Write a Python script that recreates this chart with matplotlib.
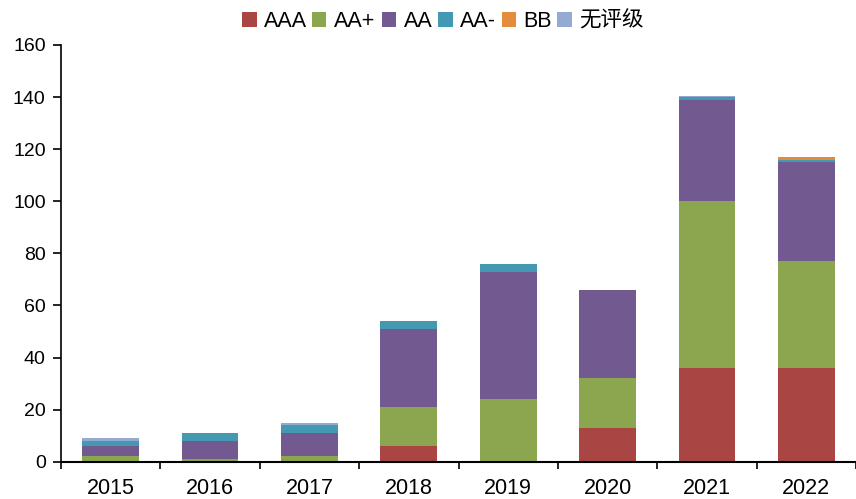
import matplotlib
matplotlib.use("Agg")
import matplotlib.pyplot as plt
from matplotlib.patches import Rectangle
import numpy as np

plt.rcParams['font.family'] = ['Liberation Sans', 'Noto Sans CJK SC', 'DejaVu Sans']

years = ["2015", "2016", "2017", "2018", "2019", "2020", "2021", "2022"]
series_names = ["AAA", "AA+", "AA", "AA-", "BB", "无评级"]
aaa = [0, 0, 0, 6, 0, 13, 36, 36]
aa_plus = [2, 1, 2, 15, 24, 19, 64, 41]
aa = [4, 7, 9, 30, 49, 34, 39, 38]
aa_minus = [2, 3, 3, 3, 3, 0, 1, 1]
bb = [0, 0, 0, 0, 0, 0, 0, 1]
unrated = [1, 0, 1, 0, 0, 0, 0.3, 0]
colors = ["#A94644", "#8BA64E", "#725A91", "#4299B1", "#E38C3C", "#94AAD3"]

data = [aaa, aa_plus, aa, aa_minus, bb, unrated]

W, H = 856, 499
fig = plt.figure(figsize=(W / 100, H / 100), dpi=100)
ax = fig.add_axes([61 / W, 37.3 / H, 795 / W, 416.7 / H])
x = np.arange(len(years))
bottom = np.zeros(len(years))
for name, vals, c in zip(series_names, data, colors):
    v = np.array(vals, dtype=float)
    ax.bar(x, v, 0.57, bottom=bottom, color=c, label=name, edgecolor='none')
    bottom += v

ax.set_ylim(0, 160)
ax.set_yticks(range(0, 161, 20))
ax.set_xlim(-0.5, 7.41)
ax.set_xticks(x)
ax.set_xticklabels(years)
ax.set_xticks(np.arange(-0.5, 8, 1), minor=True)
ax.tick_params(axis='x', which='major', length=0, labelsize=15.5, pad=12)
ax.tick_params(axis='x', which='minor', length=5, width=1.2, direction='out')
ax.tick_params(axis='y', labelsize=14, length=6, width=1.2, direction='out', pad=5)
for s in ['top', 'right']:
    ax.spines[s].set_visible(False)
ax.spines['left'].set_linewidth(1.2)
ax.spines['bottom'].set_linewidth(1.5)

# legend laid out to match the reference entry positions (pixels)
legend_x = [242.3, 312, 381.7, 438.3, 501.7, 557.3]
sq = 14.4
sq_top, baseline = 12.3, 27
for lx, name, c in zip(legend_x, series_names, colors):
    fig.patches.append(Rectangle((lx / W, (H - sq_top - sq) / H), sq / W, sq / H,
                                 transform=fig.transFigure, facecolor=c,
                                 edgecolor='none'))
    fig.text((lx + 22) / W, (H - baseline) / H, name, fontsize=15.5,
             ha='left', va='baseline')

fig.savefig("out.png", dpi=100)
